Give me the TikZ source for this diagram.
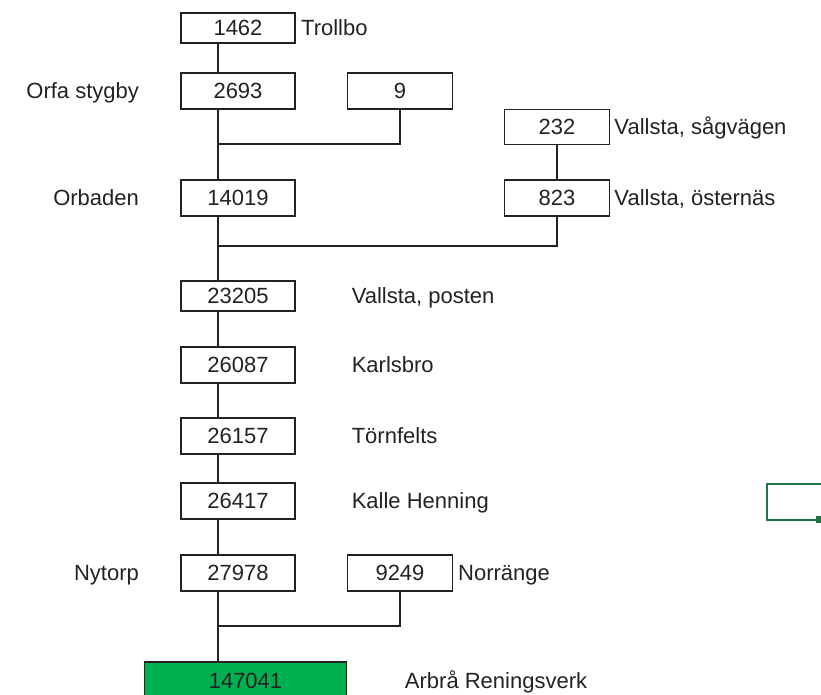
\documentclass[tikz,border=0pt]{standalone}
\usepackage{fontspec}
\setmainfont{Liberation Sans}
\usetikzlibrary{positioning}
\definecolor{cellgreen}{RGB}{0,176,80}
\definecolor{selgreen}{RGB}{33,115,70}
\definecolor{ink}{RGB}{34,34,34}

\begin{document}
\begin{tikzpicture}[x=0.75pt,y=-0.75pt,
                    every node/.style={font=\fontsize{16.5}{19}\selectfont,text=ink},
                    box/.style={draw=ink,line width=0.8pt,minimum width=85.5pt,
                                minimum height=27pt,inner sep=0pt},
                    sidebox/.style={box,minimum width=79pt},
                    lbl/.style={inner sep=0pt,text height=11.8pt,text depth=0pt}]
   \useasboundingbox (0,0) rectangle (821,694);
   \clip (0,0) rectangle (821,694);
   \coordinate (trunk) at (218,0);
   \node[box,minimum height=22.5pt] (n1462) at (238,28) {1462};
   \node[box] (n2693) at (238,91) {2693};
   \node[sidebox] (n9) at (400,91) {9};
   \node[box] (n14019) at (238,198) {14019};
   \node[sidebox,minimum height=26pt] (n232) at (557,127) {232};
   \node[sidebox] (n823) at (557,198) {823};
   \node[box,minimum height=22.5pt] (n23205) at (238,296) {23205};
   \node[box] (n26087) at (238,365) {26087};
   \node[box] (n26157) at (238,436) {26157};
   \node[box] (n26417) at (238,501) {26417};
   \node[box] (n27978) at (238,573) {27978};
   \node[sidebox] (n9249) at (400,573) {9249};
   \node[box,fill=cellgreen,minimum width=152pt,minimum height=28.5pt] (n147041) at (245.5,681) {147041};
   \node[lbl,right=4pt of n1462] {Trollbo};
   \node[lbl,left=31pt of n2693] {Orfa stygby};
   \node[lbl,left=31pt of n14019] {Orbaden};
   \node[lbl,right=3pt of n232] {Vallsta, sågvägen};
   \node[lbl,right=3pt of n823] {Vallsta, östernäs};
   \node[lbl,right=42pt of n23205] {Vallsta, posten};
   \node[lbl,right=42pt of n26087] {Karlsbro};
   \node[lbl,right=42pt of n26157] {Törnfelts};
   \node[lbl,right=42pt of n26417] {Kalle Henning};
   \node[lbl,left=31pt of n27978] {Nytorp};
   \node[lbl,right=3.5pt of n9249] {Norränge};
   \node[lbl,right=43pt of n147041] {Arbrå Reningsverk};
   \coordinate (j1) at (218,144);
   \coordinate (j2) at (218,246);
   \coordinate (j3) at (218,626);
   \draw[ink,line width=0.8pt] (n1462.south -| trunk) -- (n2693.north -| trunk);
   \draw[ink,line width=0.8pt] (n2693.south -| trunk) -- (j1) -- (n14019.north -| trunk);
   \draw[ink,line width=0.8pt] (n9.south) |- (j1);
   \draw[ink,line width=0.8pt] (n14019.south -| trunk) -- (j2) -- (n23205.north -| trunk);
   \draw[ink,line width=0.8pt] (n232.south) -- (n823.north);
   \draw[ink,line width=0.8pt] (n823.south) |- (j2);
   \draw[ink,line width=0.8pt] (n23205.south -| trunk) -- (n26087.north -| trunk);
   \draw[ink,line width=0.8pt] (n26087.south -| trunk) -- (n26157.north -| trunk);
   \draw[ink,line width=0.8pt] (n26157.south -| trunk) -- (n26417.north -| trunk);
   \draw[ink,line width=0.8pt] (n26417.south -| trunk) -- (n27978.north -| trunk);
   \draw[ink,line width=0.8pt] (n27978.south -| trunk) -- (j3) -- (n147041.north -| trunk);
   \draw[ink,line width=0.8pt] (n9249.south) |- (j3);
   \draw[selgreen,line width=2pt] (767,484) rectangle (830,520);
   \fill[selgreen] (816,516) rectangle (822,523);
\end{tikzpicture}
\end{document}
